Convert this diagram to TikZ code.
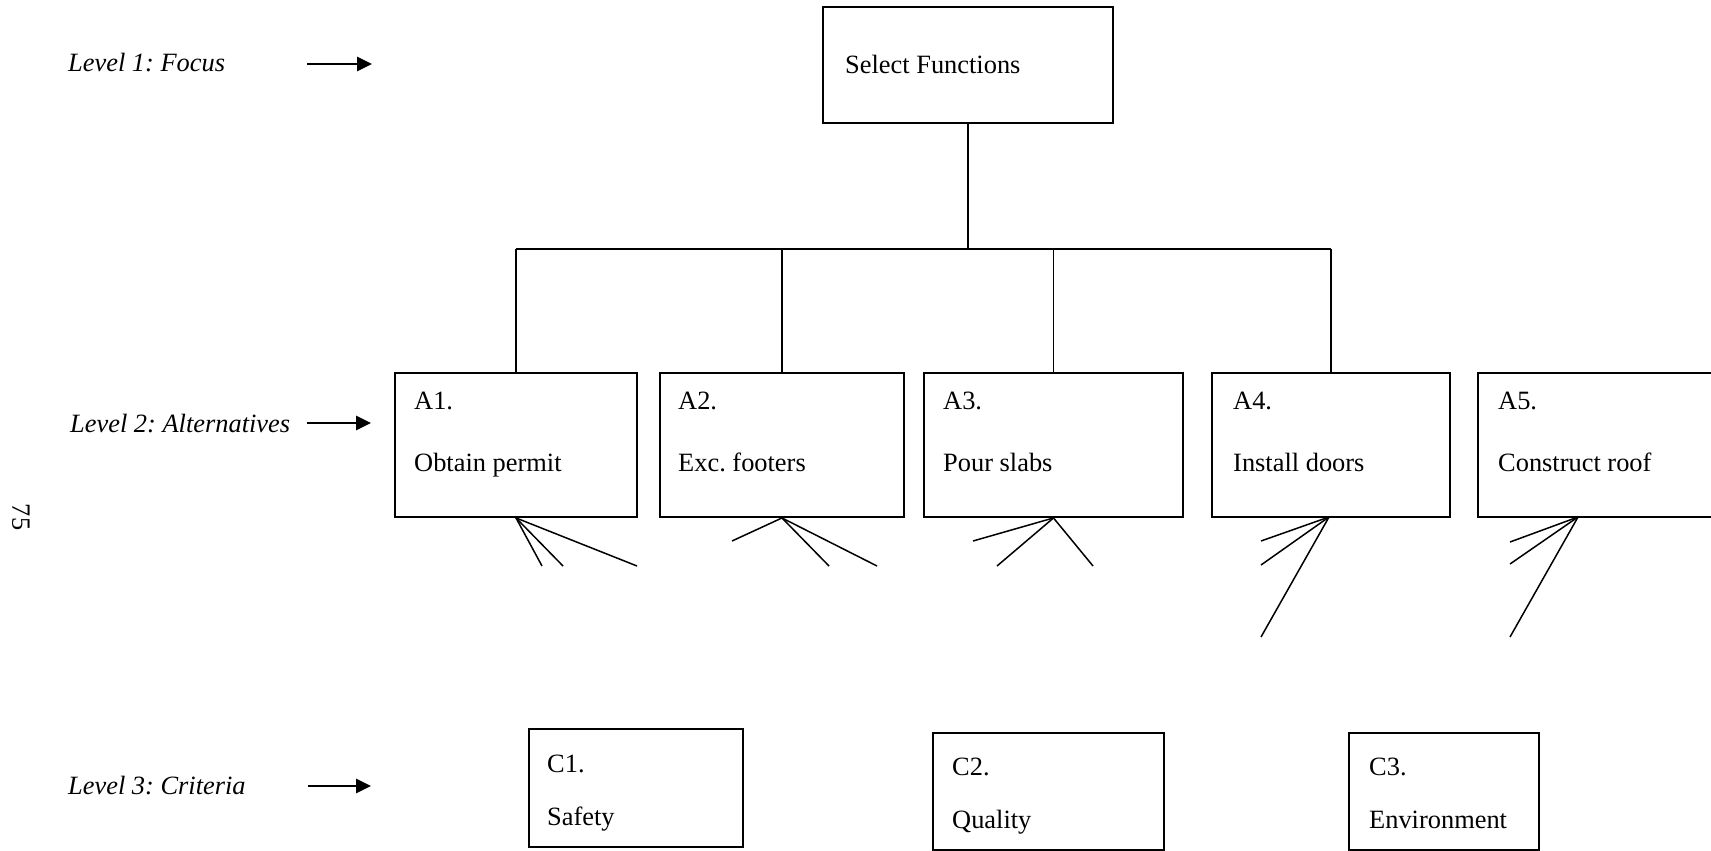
\documentclass[tikz,border=0pt]{standalone}
\usepackage{fontspec}
\setmainfont{Liberation Serif}
\usetikzlibrary{arrows.meta}
\frenchspacing
\begin{document}
\begin{tikzpicture}[x=1pt,y=-1pt,
  every node/.style={font=\fontsize{26.4}{30}\selectfont, inner sep=0pt},
  box/.style={draw, line width=1.9pt, rectangle},
  lbl/.style={anchor=base west},
  lvl/.style={anchor=base west, font=\fontsize{26.4}{30}\selectfont\itshape},
  conn/.style={line width=1.5pt},
  pointer/.style={line width=2.8pt, -{Triangle[length=15pt,width=14pt]}}]
\useasboundingbox (0,0) rectangle (1711,851);
\clip (0,0) rectangle (1711,851);

% level captions and their pointers
\node[lvl] (l1) at (68,72) {Level 1: Focus};
\node[lvl] (l2) at (70,432) {Level 2: Alternatives};
\node[lvl] (l3) at (68,794) {Level 3: Criteria};
\coordinate (p1s) at (307,64);  \coordinate (p1e) at (372,64);
\coordinate (p2s) at (307,423); \coordinate (p2e) at (371,423);
\coordinate (p3s) at (308,786); \coordinate (p3e) at (371,786);
\draw[pointer] (p1s) -- (p1e);
\draw[pointer] (p2s) -- (p2e);
\draw[pointer] (p3s) -- (p3e);

% page number
\node[rotate=-90] (pg) at (21,517) {75};

% goal
\node[box, minimum width=290pt, minimum height=116pt] (sel) at (968,65) {};
\node[lbl] (selt) at (845,74) {Select Functions};

% alternatives
\node[box, minimum width=242pt, minimum height=144pt] (a1) at (516,445) {};
\node[box, minimum width=244pt, minimum height=144pt] (a2) at (782,445) {};
\node[box, minimum width=259pt, minimum height=144pt] (a3) at (1053.5,445) {};
\node[box, minimum width=238pt, minimum height=144pt] (a4) at (1331,445) {};
\node[box, minimum width=262pt, minimum height=144pt] (a5) at (1609,445) {};

\node[lbl] (a1n) at (414,409) {A1.};
\node[lbl] (a1t) at (414,471) {Obtain permit};
\node[lbl] (a2n) at (678,409) {A2.};
\node[lbl] (a2t) at (678,471) {Exc. footers};
\node[lbl] (a3n) at (943,409) {A3.};
\node[lbl] (a3t) at (943,471) {Pour slabs};
\node[lbl] (a4n) at (1233,409) {A4.};
\node[lbl] (a4t) at (1233,471) {Install doors};
\node[lbl] (a5n) at (1498,409) {A5.};
\node[lbl] (a5t) at (1498,471) {Construct roof};

% criteria
\node[box, minimum width=214pt, minimum height=118pt] (c1) at (636,788) {};
\node[box, minimum width=231pt, minimum height=117pt] (c2) at (1048.5,791.5) {};
\node[box, minimum width=190pt, minimum height=117pt] (c3) at (1444,791.5) {};
\node[lbl] (c1n) at (547,772) {C1.};
\node[lbl] (c1t) at (547,825) {Safety};
\node[lbl] (c2n) at (952,775) {C2.};
\node[lbl] (c2t) at (952,828) {Quality};
\node[lbl] (c3n) at (1369,775) {C3.};
\node[lbl] (c3t) at (1369,828) {Environment};

% tree from the goal to the alternatives
\coordinate (bus) at (968,249);
\draw[conn] (sel.south) -- (bus);
\draw[conn] (a1.north |- bus) -- (a4.north |- bus);
\draw[conn] (a1.north) -- (a1.north |- bus);
\draw[conn] (a2.north) -- (a2.north |- bus);
\draw[conn] (a3.north) -- (a3.north |- bus);
\draw[conn] (a4.north) -- (a4.north |- bus);

% loose ends below the alternatives
\coordinate (a4b) at (1329,517);
\coordinate (a5b) at (1578,517);
\coordinate (f11) at (542,566); \coordinate (f12) at (563,566); \coordinate (f13) at (637,566);
\coordinate (f21) at (732,541); \coordinate (f22) at (829,566); \coordinate (f23) at (877,566);
\coordinate (f31) at (973,541); \coordinate (f32) at (997,566); \coordinate (f33) at (1093,566);
\coordinate (f41) at (1261,541); \coordinate (f42) at (1261,565); \coordinate (f43) at (1261,637);
\coordinate (f51) at (1510,542); \coordinate (f52) at (1510,564); \coordinate (f53) at (1510,637);
\foreach \f in {f11,f12,f13} \draw[conn] (a1.south) -- (\f);
\foreach \f in {f21,f22,f23} \draw[conn] (a2.south) -- (\f);
\foreach \f in {f31,f32,f33} \draw[conn] (a3.south) -- (\f);
\foreach \f in {f41,f42,f43} \draw[conn] (a4b) -- (\f);
\foreach \f in {f51,f52,f53} \draw[conn] (a5b) -- (\f);
\end{tikzpicture}
\end{document}
